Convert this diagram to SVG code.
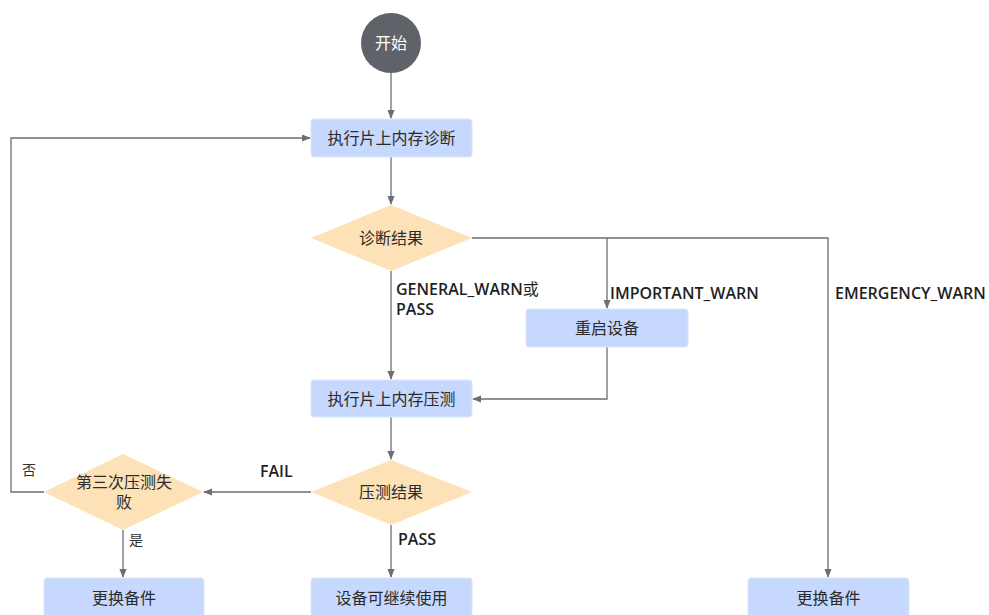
<svg xmlns="http://www.w3.org/2000/svg" width="989" height="615" viewBox="0 0 989 615">
<style>
.box{fill:#c6d8fd;stroke:#dbe6fe;stroke-width:1}
.dia{fill:#fde2b8}
.t{font-family:"Open Sans","Noto Sans CJK SC",sans-serif;font-size:16px;fill:#2b2b2b;text-anchor:middle;dominant-baseline:central}
.l{font-family:"Open Sans","Noto Sans CJK SC",sans-serif;font-size:16px;font-weight:600;fill:#1f1f1f}
.s{font-family:"Noto Sans CJK SC",sans-serif;font-size:14px;fill:#333}
.c{fill:none;stroke:#6b6e73;stroke-width:1.3}
</style>
<defs>
<marker id="a" viewBox="0 0 10 10" refX="9" refY="5" markerWidth="9" markerHeight="9" markerUnits="userSpaceOnUse" orient="auto">
<path d="M0,1 L10,5 L0,9 z" fill="#6b6e73"/>
</marker>
</defs>
<rect width="989" height="615" fill="#fff"/>
<g id="edges">
<path class="c" d="M391,73 V118" marker-end="url(#a)"/>
<path class="c" d="M391,157 V204" marker-end="url(#a)"/>
<path class="c" d="M391,271 V379" marker-end="url(#a)"/>
<path class="c" d="M472,238 H828 V577" marker-end="url(#a)"/>
<path class="c" d="M607,238 V308" marker-end="url(#a)"/>
<path class="c" d="M607,347 V399 H473" marker-end="url(#a)"/>
<path class="c" d="M391,417 V459" marker-end="url(#a)"/>
<path class="c" d="M311,492 H204" marker-end="url(#a)"/>
<path class="c" d="M391,525 V577" marker-end="url(#a)"/>
<path class="c" d="M123,530 V577" marker-end="url(#a)"/>
<path class="c" d="M44,492 H11 V138 H310" marker-end="url(#a)"/>
<text class="l" x="396" y="295">GENERAL_WARN<tspan font-weight="400">或</tspan></text>
<text class="l" x="396" y="315">PASS</text>
<text class="l" x="610" y="299">IMPORTANT_WARN</text>
<text class="l" x="835" y="299">EMERGENCY_WARN</text>
<text class="l" x="260" y="477">FAIL</text>
<text class="l" x="398" y="545">PASS</text>
<text class="s" x="22" y="475">否</text>
<text class="s" x="129" y="545">是</text>
</g>
<g id="start">
<circle cx="391" cy="43" r="30" fill="#5f6268"/>
<text class="t" x="391" y="43" style="fill:#fff">开始</text>
</g>
<g id="diag">
<rect class="box" x="311" y="119" width="161" height="38" rx="3"/>
<text class="t" x="391.5" y="138">执行片上内存诊断</text>
</g>
<g id="diagResult">
<polygon class="dia" points="391,205 472,238 391,271 311,238"/>
<text class="t" x="391" y="238">诊断结果</text>
</g>
<g id="restart">
<rect class="box" x="526" y="309" width="162" height="38" rx="3"/>
<text class="t" x="607" y="328">重启设备</text>
</g>
<g id="stress">
<rect class="box" x="311" y="380" width="161" height="37" rx="3"/>
<text class="t" x="391.5" y="398.5">执行片上内存压测</text>
</g>
<g id="stressResult">
<polygon class="dia" points="391,460 472,492 391,525 311,492"/>
<text class="t" x="391" y="492">压测结果</text>
</g>
<g id="third">
<polygon class="dia" points="123,454 203,492 123,530 44,492"/>
<text class="t" x="124" y="482">第三次压测失</text>
<text class="t" x="124" y="502">败</text>
</g>
<g id="replace1">
<rect class="box" x="44" y="578" width="160" height="40" rx="3"/>
<text class="t" x="124" y="598">更换备件</text>
</g>
<g id="continue">
<rect class="box" x="311" y="578" width="161" height="40" rx="3"/>
<text class="t" x="391.5" y="598">设备可继续使用</text>
</g>
<g id="replace2">
<rect class="box" x="748" y="578" width="161" height="40" rx="3"/>
<text class="t" x="828.5" y="598">更换备件</text>
</g>
</svg>
